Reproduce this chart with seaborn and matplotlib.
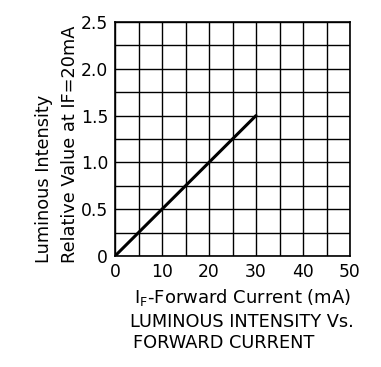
import matplotlib
matplotlib.use("Agg")
import matplotlib.pyplot as plt
import seaborn as sns
import numpy as np

# forward current (mA) and relative luminous intensity
current = [0, 5, 10, 15, 20, 25, 30]
intensity = [0, 0.25, 0.5, 0.75, 1.0, 1.25, 1.5]

x_ticks = [0, 10, 20, 30, 40, 50]
x_labels = ["0", "10", "20", "30", "40", "50"]
y_ticks = [0, 0.5, 1.0, 1.5, 2.0, 2.5]
y_labels = ["0", "0.5", "1.0", "1.5", "2.0", "2.5"]

sns.set_style("white")
plt.rcParams["font.family"] = ["DejaVu Sans"]
plt.rcParams["text.color"] = "black"

W, H = 381, 367
fig = plt.figure(figsize=(W / 100, H / 100), dpi=100)
ax = fig.add_axes([115 / W, 1 - 256 / H, (350 - 115) / W, (256 - 22) / H])

sns.lineplot(x=current, y=intensity, ax=ax, color="black", linewidth=2.2)

ax.set_xlim(0, 50)
ax.set_ylim(0, 2.5)
ax.set_xticks(x_ticks)
ax.set_xticklabels(x_labels)
ax.set_yticks(y_ticks)
ax.set_yticklabels(y_labels)
ax.set_xticks(np.arange(5, 50, 10), minor=True)
ax.set_yticks(np.arange(0.25, 2.5, 0.5), minor=True)
ax.grid(True, which="both", color="black", linewidth=1.0)
ax.set_axisbelow(True)
ax.tick_params(which="both", length=0, labelsize=12.3, colors="black", pad=5)
for s in ax.spines.values():
    s.set_color("black")
    s.set_linewidth(1.2)
    s.set_visible(True)

ax.set_xlabel("")
ax.set_ylabel("")

fig.text(243 / W, 1 - 298 / H, r"I$_{\mathregular{F}}$-Forward Current (mA)",
         ha="center", va="center", fontsize=13)
fig.text(130 / W, 1 - 322 / H, "LUMINOUS INTENSITY Vs.", ha="left",
         va="center", fontsize=12.8)
fig.text(133 / W, 1 - 343 / H, "FORWARD CURRENT", ha="left",
         va="center", fontsize=12.8)
fig.text(44 / W, 1 - 263 / H, "Luminous Intensity", rotation=90,
         ha="center", va="bottom", fontsize=12.8)
fig.text(70 / W, 1 - 263 / H, "Relative Value at IF=20mA", rotation=90,
         ha="center", va="bottom", fontsize=12.8)

fig.savefig("out.png", dpi=100)
